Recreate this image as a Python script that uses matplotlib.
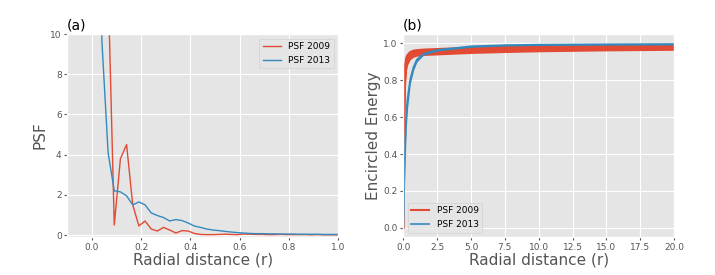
import matplotlib
matplotlib.use('Agg')
import matplotlib.pyplot as plt

# ---------- data ----------
# panel (a): PSF profiles
r_psf = [0.016, 0.041, 0.066, 0.091, 0.116, 0.141, 0.166, 0.191, 0.216, 0.241,
         0.266, 0.291, 0.316, 0.341, 0.366, 0.391, 0.416, 0.441, 0.466, 0.491,
         0.516, 0.541, 0.566, 0.591, 0.616, 0.641, 0.666, 0.691, 0.716, 0.741,
         0.766, 0.791, 0.816, 0.841, 0.866, 0.891, 0.916, 0.941, 0.966, 0.991, 1.016]
psf_2009 = [60.0, 35.0, 12.5, 0.5, 3.8, 4.5, 1.5, 0.45, 0.7, 0.3,
            0.2, 0.38, 0.25, 0.1, 0.22, 0.2, 0.08, 0.03, 0.02, 0.02,
            0.03, 0.04, 0.03, 0.02, 0.05, 0.04, 0.03, 0.03, 0.02, 0.02,
            0.03, 0.02, 0.02, 0.02, 0.02, 0.01, 0.02, 0.01, 0.01, 0.01, 0.01]
psf_2013 = [25.0, 9.6, 4.1, 2.2, 2.15, 1.95, 1.5, 1.65, 1.5, 1.1,
            0.97, 0.87, 0.7, 0.77, 0.72, 0.6, 0.45, 0.38, 0.3, 0.25,
            0.22, 0.18, 0.15, 0.12, 0.1, 0.08, 0.07, 0.07, 0.06, 0.06,
            0.05, 0.05, 0.05, 0.04, 0.04, 0.04, 0.04, 0.03, 0.03, 0.03, 0.03]

# panel (b): encircled energy curves (several realisations each)
r_ee = [0, 0.05, 0.1, 0.2, 0.3, 0.5, 0.75, 1.0, 1.5, 2.5, 5.0, 7.5, 10.0, 15.0, 20.0]
ee_2009 = [
    [0, 0.62, 0.85, 0.915, 0.935, 0.952, 0.96, 0.963, 0.966, 0.969, 0.976, 0.981, 0.985, 0.989, 0.992],
    [0, 0.58, 0.82, 0.9, 0.925, 0.945, 0.953, 0.957, 0.96, 0.962, 0.969, 0.974, 0.978, 0.982, 0.985],
    [0, 0.54, 0.8, 0.885, 0.912, 0.935, 0.945, 0.95, 0.953, 0.955, 0.962, 0.967, 0.971, 0.976, 0.979],
    [0, 0.5, 0.77, 0.87, 0.9, 0.925, 0.937, 0.942, 0.945, 0.947, 0.955, 0.96, 0.964, 0.969, 0.972],
    [0, 0.45, 0.74, 0.85, 0.885, 0.913, 0.927, 0.933, 0.937, 0.94, 0.948, 0.953, 0.957, 0.962, 0.965],
]
ee_2013 = [
    [0, 0.18, 0.36, 0.58, 0.69, 0.8, 0.87, 0.912, 0.943, 0.964, 0.984, 0.99, 0.993, 0.995, 0.996],
    [0, 0.15, 0.32, 0.54, 0.65, 0.78, 0.855, 0.9, 0.937, 0.96, 0.98, 0.987, 0.99, 0.992, 0.993],
]

# ---------- plotting ----------
plt.style.use('ggplot')
RED, BLUE = '#E24A33', '#348ABD'

fig, (ax1, ax2) = plt.subplots(1, 2, figsize=(7.15, 2.75), dpi=100)
fig.subplots_adjust(left=0.094, right=0.943, top=0.876, bottom=0.138, wspace=0.24)

ax1.plot(r_psf, psf_2009, color=RED, lw=1.0, label='PSF 2009')
ax1.plot(r_psf, psf_2013, color=BLUE, lw=1.0, label='PSF 2013')
ax1.set_xlim(-0.1, 1.0)
ax1.set_ylim(-0.1, 10)
ax1.set_xlabel('Radial distance (r)', fontsize=11, labelpad=1)
ax1.set_ylabel('PSF', fontsize=11, labelpad=2)
ax1.set_title('(a)', loc='left', fontsize=10, pad=3)
ax1.legend(loc='upper right', fontsize=6.5)

for i, y in enumerate(ee_2009):
    ax2.plot(r_ee, y, color=RED, lw=1.5, label='PSF 2009' if i == 0 else None)
for i, y in enumerate(ee_2013):
    ax2.plot(r_ee, y, color=BLUE, lw=1.2, label='PSF 2013' if i == 0 else None)
ax2.set_xlim(0, 20)
ax2.set_ylim(-0.05, 1.05)
ax2.set_xlabel('Radial distance (r)', fontsize=11, labelpad=1)
ax2.set_ylabel('Encircled Energy', fontsize=11, labelpad=2)
ax2.set_title('(b)', loc='left', fontsize=10, pad=3)
ax2.legend(loc='lower left', fontsize=6.5)

for ax in (ax1, ax2):
    ax.tick_params(labelsize=6.5, length=2, pad=2)

fig.savefig('out.png', dpi=100)
